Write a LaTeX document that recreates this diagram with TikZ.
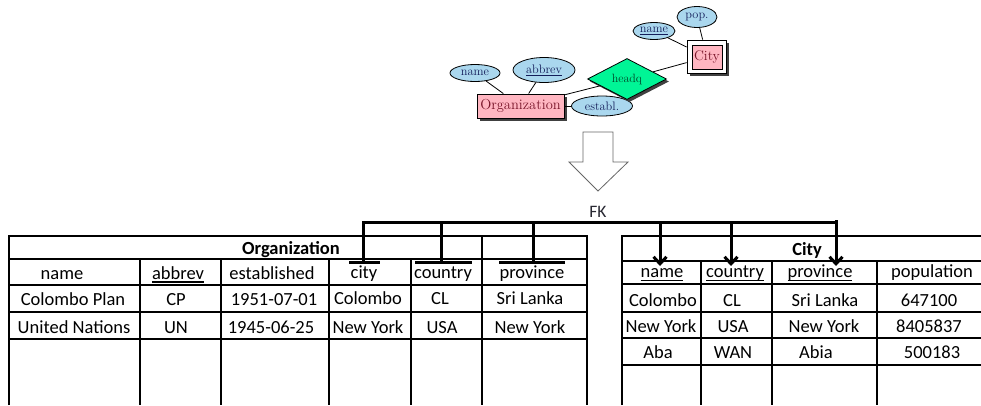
\documentclass[tikz,border=0pt]{standalone}
\usepackage{fontspec}
\newfontfamily\tabfont{Carlito}
\usetikzlibrary{shapes.geometric,shadows,arrows.meta}

\definecolor{erpink}{RGB}{255,182,193}
\definecolor{erblue}{RGB}{170,215,238}
\definecolor{ergreen}{RGB}{0,245,150}
\definecolor{entred}{RGB}{120,20,40}
\definecolor{attrblue}{RGB}{20,30,90}
\definecolor{relgreen}{RGB}{0,70,40}
\definecolor{fkgray}{RGB}{40,40,50}

% underlined key columns
\newcommand\keyul[1]{\setbox0=\hbox{#1}\rlap{\copy0}\rule[-4.4pt]{\wd0}{2.6pt}}
\newcommand\thinul[1]{\setbox0=\hbox{#1}\rlap{\copy0}\rule[-3.9pt]{\wd0}{1.3pt}}

\begin{document}
\begin{tikzpicture}[x=1pt,y=-1pt,
  erline/.style={line width=0.8pt},
  entity/.style={draw, line width=0.9pt, fill=erpink, text=entred, inner sep=0pt,
    font=\fontsize{14.5}{16}\selectfont,
    drop shadow={shadow xshift=2.5pt, shadow yshift=-2.5pt, fill=black!75, opacity=1}},
  attr/.style={ellipse, draw, line width=0.8pt, fill=erblue, text=attrblue, inner sep=0pt,
    font=\fontsize{12.3}{14}\selectfont},
  rel/.style={diamond, draw, line width=0.8pt, fill=ergreen, text=relgreen, inner sep=0pt,
    font=\fontsize{12}{14}\selectfont,
    drop shadow={shadow xshift=2.5pt, shadow yshift=-2.5pt, fill=black!75, opacity=1}},
  blockarrow/.style={draw=black!60, line width=0.8pt, fill=white, line join=miter},
  tborder/.style={line width=1.8pt, line join=miter},
  trow/.style={line width=1.3pt},
  tcol/.style={line width=1.8pt},
  cell/.style={anchor=base, inner sep=0pt, font=\tabfont\fontsize{18.5}{20}\selectfont},
  ttitle/.style={cell, font=\tabfont\bfseries\fontsize{18.5}{20}\selectfont},
  fkbar/.style={line width=3pt},
  fk/.style={line width=3pt, line join=miter},
  fkarrow/.style={line width=3pt, -{Straight Barb[length=7pt, width=13pt]}},
]
\useasboundingbox (0,0) rectangle (981,405);

% ---------------- ER diagram ----------------
\node[entity, minimum width=87pt, minimum height=24pt] (org) at (520.5,106) {Organization};
\node[entity, fill=white, line width=1.8pt, minimum width=39pt, minimum height=33pt] (city) at (707,57) {};
\node[draw, line width=0.8pt, fill=erpink, text=entred, inner sep=0pt,
      minimum width=30pt, minimum height=24pt, font=\fontsize{14}{16}\selectfont] (cityin) at (city) {City};

\node[attr, minimum width=50pt, minimum height=17pt] (oname) at (475,73) {name};
\node[attr, minimum width=62pt, minimum height=25pt] (oabbrev) at (544,70) {\underline{abbrev}};
\node[attr, minimum width=61pt, minimum height=20pt] (oestab) at (602,106) {establ.};
\node[attr, minimum width=42pt, minimum height=17pt] (cname) at (654,31) {\underline{name}};
\node[attr, minimum width=40pt, minimum height=21pt] (cpop) at (697,17) {pop.};
\node[rel, minimum width=79pt, minimum height=37pt] (headq) at (627,79) {headq};

\draw[erline] (oname) -- (org);
\draw[erline] (oabbrev) -- (org);
\draw[erline] (oestab) -- (org);
\draw[erline] (org) -- (headq);
\draw[erline] (headq) -- (city);
\draw[erline] (cname) -- (city);
\draw[erline] (cpop) -- (city);

% ---------------- translation arrow ----------------
\draw[blockarrow] (583,132) -- (613,132) -- (613,162) -- (628,162) -- (598,191)
  -- (569,162) -- (583,162) -- cycle;
\node[cell, text=fkgray, font=\tabfont\fontsize{17.5}{20}\selectfont] (fk) at (598,217) {FK};

% ---------------- Organization table ----------------
\draw[tborder] (9,405) -- (9,236) -- (587,236) -- (587,405);
\foreach \y in {259,285,312,339} \draw[trow] (9,\y) -- (587,\y);
\foreach \x in {140,221,329,411} \draw[tcol] (\x,259) -- (\x,405);
\draw[tcol] (482,236) -- (482,405);

\node[ttitle] (orgtitle) at (291,254) {Organization};
\node[cell] (o-h1) at (62,279) {name};
\node[cell] (o-h2) at (178,279) {\keyul{abbrev}};
\node[cell] (o-h3) at (272,279) {established};
\node[cell] (o-h4) at (364,278) {city};
\node[cell] (o-h5) at (443,278) {country};
\node[cell] (o-h6) at (532,278) {province};

\node[cell] at (73,305) {Colombo Plan};
\node[cell] at (176,305) {CP};
\node[cell] at (274,305) {1951-07-01};
\node[cell] at (368,304) {Colombo};
\node[cell] at (440,304) {CL};
\node[cell] at (530,304) {Sri Lanka};

\node[cell] at (74,333) {United Nations};
\node[cell] at (176,333) {UN};
\node[cell] at (271,333) {1945-06-25};
\node[cell] at (368,333) {New York};
\node[cell] at (442,333) {USA};
\node[cell] at (530,333) {New York};

% foreign key overlines
\draw[fkbar] (349,262) -- (380,262);
\draw[fkbar] (415,262) -- (472,262);
\draw[fkbar] (499,262) -- (565,262);

% ---------------- City table ----------------
\draw[tborder] (622,405) -- (622,236) -- (981,236);
\foreach \y in {261,284,312,338,365} \draw[trow] (622,\y) -- (981,\y);
\foreach \x in {701,772,877} \draw[tcol] (\x,261) -- (\x,405);

\node[ttitle] (citytitle) at (807,255) {City};
\node[cell] (c-h1) at (662,277) {\thinul{name}};
\node[cell] (c-h2) at (735,277) {\thinul{country}};
\node[cell] (c-h3) at (820,277) {\thinul{province}};
\node[cell] (c-h4) at (932,277) {population};

\node[cell] at (663,306) {Colombo};
\node[cell] at (732,306) {CL};
\node[cell] at (825,306) {Sri Lanka};
\node[cell] at (929,306) {647100};

\node[cell] at (661,332) {New York};
\node[cell] at (733,332) {USA};
\node[cell] at (824,332) {New York};
\node[cell] at (929,332) {8405837};

\node[cell] at (658,358) {Aba};
\node[cell] at (733,358) {WAN};
\node[cell] at (816,358) {Abia};
\node[cell] at (932,358) {500183};

% ---------------- foreign key connectors ----------------
\coordinate (ocity) at (363,262);
\coordinate (ocountry) at (441,262);
\coordinate (oprov) at (533,262);
\coordinate (cnameref) at (660,266);
\coordinate (ccountryref) at (731,266);
\coordinate (cprovref) at (836,266);
\coordinate (busL) at (363,222);
\coordinate (busR) at (836,222);

\draw[fk] (ocity) -- (busL) -- (busR) -- ([yshift=2pt]cprovref |- busR);
\draw[fk] (ocountry) -- (ocountry |- busL);
\draw[fk] (oprov) -- (oprov |- busL);
\draw[fkarrow] (cnameref |- busL) -- (cnameref);
\draw[fkarrow] (ccountryref |- busL) -- (ccountryref);
\draw[fkarrow] (busR) -- (cprovref);
\end{tikzpicture}
\end{document}
